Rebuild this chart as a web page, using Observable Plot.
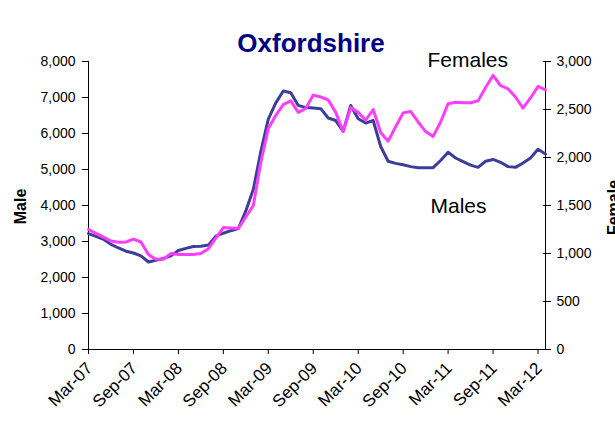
<!DOCTYPE html>
<html>
<head>
<meta charset="utf-8">
<script src="https://cdn.jsdelivr.net/npm/d3@7"></script>
<script src="https://cdn.jsdelivr.net/npm/@observablehq/plot@0.6"></script>
<style>
  html, body { margin: 0; padding: 0; background: #fff; overflow: hidden; }
</style>
</head>
<body>
<div id="chart"></div>
<script>
const months = [
  "Mar-07","Apr-07","May-07","Jun-07","Jul-07","Aug-07","Sep-07","Oct-07","Nov-07","Dec-07",
  "Jan-08","Feb-08","Mar-08","Apr-08","May-08","Jun-08","Jul-08","Aug-08","Sep-08","Oct-08","Nov-08","Dec-08",
  "Jan-09","Feb-09","Mar-09","Apr-09","May-09","Jun-09","Jul-09","Aug-09","Sep-09","Oct-09","Nov-09","Dec-09",
  "Jan-10","Feb-10","Mar-10","Apr-10","May-10","Jun-10","Jul-10","Aug-10","Sep-10","Oct-10","Nov-10","Dec-10",
  "Jan-11","Feb-11","Mar-11","Apr-11","May-11","Jun-11","Jul-11","Aug-11","Sep-11","Oct-11","Nov-11","Dec-11",
  "Jan-12","Feb-12","Mar-12","Apr-12"
];
const male = [
  3220,3140,3060,2920,2820,2730,2680,2600,2430,2480,
  2530,2600,2750,2810,2860,2870,2900,3150,3230,3300,3360,3850,
  4450,5500,6400,6850,7180,7130,6780,6720,6710,6690,6430,6360,
  6060,6780,6410,6290,6360,5640,5230,5170,5130,5080,5050,5050,
  5050,5250,5480,5320,5220,5120,5060,5230,5280,5200,5080,5060,
  5180,5320,5560,5430
];
const female = [
  1250,1210,1170,1130,1118,1120,1150,1120,990,940,
  940,1000,990,990,990,1000,1050,1160,1270,1265,1260,1380,
  1500,1950,2300,2440,2550,2590,2470,2510,2650,2630,2600,2470,
  2270,2520,2470,2390,2500,2260,2170,2320,2465,2480,2370,2270,
  2220,2370,2560,2575,2570,2570,2590,2730,2855,2750,2715,2630,
  2515,2620,2740,2705
];
const tickLabels = ["Mar-07","Sep-07","Mar-08","Sep-08","Mar-09","Sep-09","Mar-10","Sep-10","Mar-11","Sep-11","Mar-12"];
const maleTicks = [0,1000,2000,3000,4000,5000,6000,7000,8000];
const femaleTicks = [0,500,1000,1500,2000,2500,3000];

const maleMax = 8000, femaleMax = 3000;
const K = maleMax / femaleMax;
const data = months.map((m, i) => ({i, month: m, male: male[i], female: female[i]}));
const tickIdx = tickLabels.map(t => months.indexOf(t));
const fmt = d3.format(",");
const maleColor = "#3d3d9a";
const femaleColor = "#ff3dff";
const font = "'Liberation Sans', Arial, sans-serif";

const chart = Plot.plot({
  width: 615,
  height: 421,
  marginLeft: 88,
  marginRight: 70,
  marginTop: 61,
  marginBottom: 72,
  style: {fontFamily: font, fontSize: "14px", color: "#000", background: "#fff", overflow: "visible"},
  x: {domain: [0, months.length - 1], axis: null},
  y: {domain: [0, maleMax], axis: null},
  marks: [
    Plot.axisY(maleTicks, {anchor: "left", tickSize: 6, tickPadding: 7, tickFormat: fmt, label: null, fontSize: 14, stroke: "#000", strokeOpacity: 1}),
    Plot.axisY(femaleTicks.map(v => v * K), {anchor: "right", tickSize: 8, dx: -3, tickFormat: () => "", label: null, stroke: "#000", strokeOpacity: 1}),
    Plot.axisY(femaleTicks.map(v => v * K), {anchor: "right", tickSize: 0, tickPadding: 11, fontSize: 14, label: null, tickFormat: d => fmt(Math.round(d / K))}),
    Plot.axisX(tickIdx, {anchor: "bottom", tickSize: 5, tickFormat: () => "", label: null, stroke: "#000", strokeOpacity: 1}),
    Plot.axisX(tickIdx, {anchor: "bottom", tickSize: 0, tickPadding: 16, dx: 1, tickRotate: -45, tickFormat: i => months[i], label: null, fontSize: 17}),
    Plot.ruleX([0], {stroke: "#000"}),
    Plot.ruleX([months.length - 1], {stroke: "#000"}),
    Plot.ruleY([0], {stroke: "#000"}),
    Plot.line(data, {x: "i", y: "male", stroke: maleColor, strokeWidth: 3, strokeLinejoin: "round"}),
    Plot.line(data, {x: "i", y: d => d.female * K, stroke: femaleColor, strokeWidth: 3, strokeLinejoin: "round"}),
    Plot.text(["Oxfordshire"], {frameAnchor: "top", textAnchor: "middle", lineAnchor: "middle", dx: -6, dy: -18, fontSize: 26, fontWeight: "bold", fill: "#000080"}),
    Plot.text(["Females"], {frameAnchor: "top-left", textAnchor: "start", lineAnchor: "middle", dx: 339, dy: -1, fontSize: 21, fill: "#000"}),
    Plot.text(["Males"], {frameAnchor: "left", textAnchor: "start", lineAnchor: "middle", dx: 342, dy: 1, fontSize: 21, fill: "#000"}),
    Plot.text(["Male"], {frameAnchor: "left", textAnchor: "middle", lineAnchor: "middle", rotate: -90, dx: -68, dy: 1, fontSize: 16, fontWeight: "bold", fill: "#000"}),
    Plot.text(["Female"], {frameAnchor: "right", textAnchor: "middle", lineAnchor: "middle", rotate: -90, dx: 68, dy: 2, fontSize: 16, fontWeight: "bold", fill: "#000"})
  ]
});
document.getElementById("chart").appendChild(chart);
</script>
</body>
</html>
